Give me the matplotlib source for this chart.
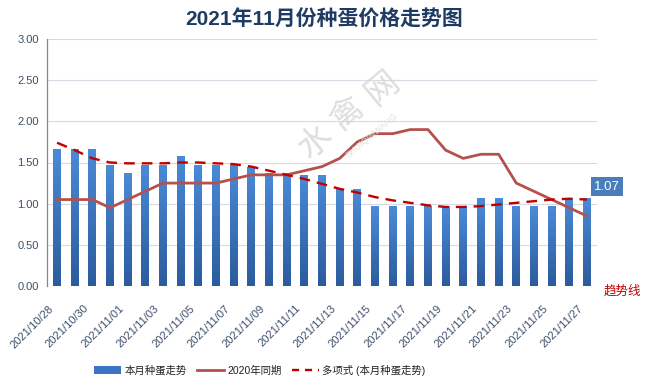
import matplotlib
matplotlib.use("Agg")
import matplotlib.pyplot as plt
import numpy as np
from matplotlib.lines import Line2D
from matplotlib.patches import Patch

plt.rcParams['font.family'] = ['Liberation Sans', 'Noto Sans CJK SC', 'DejaVu Sans']

dates = ["2021/10/28", "2021/10/29", "2021/10/30", "2021/10/31", "2021/11/01", "2021/11/02",
         "2021/11/03", "2021/11/04", "2021/11/05", "2021/11/06", "2021/11/07", "2021/11/08",
         "2021/11/09", "2021/11/10", "2021/11/11", "2021/11/12", "2021/11/13", "2021/11/14",
         "2021/11/15", "2021/11/16", "2021/11/17", "2021/11/18", "2021/11/19", "2021/11/20",
         "2021/11/21", "2021/11/22", "2021/11/23", "2021/11/24", "2021/11/25", "2021/11/26",
         "2021/11/27"]
price_2021 = [1.67, 1.67, 1.67, 1.47, 1.37, 1.47, 1.47, 1.58, 1.47, 1.47, 1.47, 1.45,
              1.37, 1.37, 1.35, 1.35, 1.18, 1.18, 0.97, 0.97, 0.97, 0.97, 0.97, 0.97,
              1.07, 1.07, 0.97, 0.97, 0.97, 1.07, 1.07]
price_2020 = [1.05, 1.05, 1.05, 0.95, 1.05, 1.15, 1.25, 1.25, 1.25, 1.25, 1.30, 1.35,
              1.35, 1.35, 1.40, 1.45, 1.55, 1.75, 1.85, 1.85, 1.90, 1.90, 1.65, 1.55,
              1.60, 1.60, 1.25, 1.15, 1.05, 0.95, 0.85]
trend = [1.74, 1.65, 1.55, 1.50, 1.49, 1.49, 1.49, 1.50, 1.50, 1.49, 1.48, 1.45,
         1.40, 1.35, 1.30, 1.24, 1.18, 1.135, 1.08, 1.04, 1.01, 0.98, 0.96, 0.96,
         0.97, 0.99, 1.01, 1.03, 1.05, 1.06, 1.05]
yticks = [0.0, 0.5, 1.0, 1.5, 2.0, 2.5, 3.0]

title = "2021年11月份种蛋价格走势图"
label_bar = "本月种蛋走势"
label_2020 = "2020年同期"
label_trend = "多项式 (本月种蛋走势)"

W, H = 645, 392
fig = plt.figure(figsize=(W / 100, H / 100), dpi=100)
ax = fig.add_axes([47 / W, 1 - 286 / H, 550 / W, 247 / H])

x = np.arange(len(dates))
bars = ax.bar(x, price_2021, width=0.45, color="#3A74C2", zorder=2)
# vertical gradient inside each bar
grad = np.linspace(0, 1, 256).reshape(-1, 1)
cmap = matplotlib.colors.LinearSegmentedColormap.from_list("g", ["#2C5B9C", "#4A8BD8"])
for b in bars:
    x0, w, h = b.get_x(), b.get_width(), b.get_height()
    im = ax.imshow(grad, extent=[x0, x0 + w, 0, h], origin="lower", aspect="auto",
                   cmap=cmap, zorder=2.1)
    im.set_clip_path(b)

ax.plot(x, price_2020, color="#B5514C", lw=2.0, zorder=3, solid_joinstyle="round")
ax.plot(x, trend, color="#C00000", lw=1.7, ls=(0, (4.5, 3)), zorder=4)

ax.set_xlim(-0.57, len(dates) - 1 + 0.57)
ax.set_ylim(0, 3.0)
ax.set_yticks(yticks)
ax.set_yticklabels([f"{v:.2f}" for v in yticks], fontsize=8, color="#3B4E6B")
ax.yaxis.grid(True, color="#D9D9E3", lw=0.8, zorder=0)
ax.set_axisbelow(True)
ax.tick_params(axis="both", length=0, pad=6)
ax.set_xticks(x[::2])
ax.set_xticklabels(dates[::2], rotation=45, ha="right", rotation_mode="anchor",
                   fontsize=8, color="#3B4E6B")
for lab in ax.get_xticklabels():
    lab.set_transform(lab.get_transform() + matplotlib.transforms.ScaledTranslation(-9 / 100, -9 / 100, fig.dpi_scale_trans))
for s in ["top", "right", "bottom"]:
    ax.spines[s].set_visible(False)
ax.spines["left"].set_color("#868686")
ax.spines["left"].set_linewidth(0.9)

# value label on last bar
ax.annotate(f"{price_2021[-1]:.2f}", xy=(x[-1], price_2021[-1]), xytext=(14.5, 8),
            textcoords="offset points", ha="center", va="center", fontsize=9.5, color="white",
            bbox=dict(boxstyle="square,pad=0.25", fc="#4A7EBB", ec="none"), zorder=6,
            annotation_clip=False)

fig.text(622 / W, 1 - 291 / H, "趋势线", color="#C00000", fontsize=9,
         ha="center", va="center", family=["Noto Sans CJK SC"])

fig.text(324 / W, 1 - 20 / H, title, ha="center", va="center", fontsize=15,
         fontweight="bold", color="#1F3B64")

# watermark
for ch, (cx, cy) in zip("水禽网", [(315, 142), (348, 114), (382, 88)]):
    fig.text(cx / W, 1 - cy / H, ch, fontsize=24, color="#D6D6D6", alpha=0.8,
             rotation=40, ha="center", va="center", family=["Noto Sans CJK SC"], zorder=1)
fig.text(372 / W, 1 - 136 / H, "SHUIQINWANG", fontsize=6.5, color="#E0E0E0",
         rotation=40, ha="center", va="center", zorder=1)

handles = [Patch(facecolor="#3A74C2", edgecolor="none"),
           Line2D([], [], color="#B5514C", lw=2.0),
           Line2D([], [], color="#C00000", lw=1.7, ls=(0, (3, 2.5)))]
leg = fig.legend(handles, [label_bar, label_2020, label_trend], loc="center",
                 bbox_to_anchor=(260 / W, 1 - 370 / H), ncol=3, frameon=False,
                 fontsize=7.5, handlelength=2.6, handleheight=0.7, handletextpad=0.3,
                 columnspacing=1.0)
for t in leg.get_texts():
    t.set_color("#222222")

fig.savefig("out.png", dpi=100)
